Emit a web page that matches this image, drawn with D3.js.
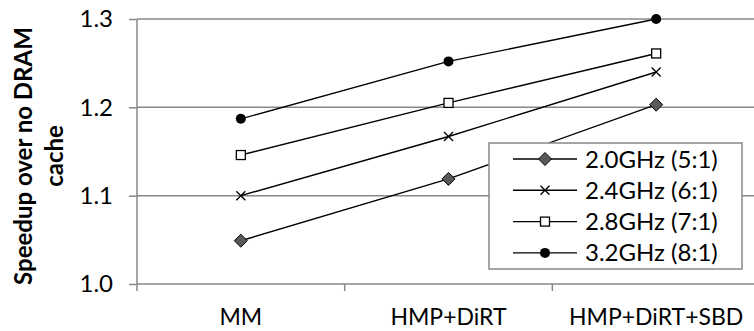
<!DOCTYPE html>
<html>
<head>
<meta charset="utf-8">
<script src="https://cdn.jsdelivr.net/npm/d3@7"></script>
<style>
  body { margin: 0; background: #fff; overflow: hidden; }
  text { font-family: Lato, "Open Sans", sans-serif; fill: #000; }
</style>
</head>
<body>
<div id="chart"></div>
<script>
// data
var categories = ["MM", "HMP+DiRT", "HMP+DiRT+SBD"];
var seriesNames = ["2.0GHz (5:1)", "2.4GHz (6:1)", "2.8GHz (7:1)", "3.2GHz (8:1)"];
var ghz20 = [1.049, 1.119, 1.203];
var ghz24 = [1.100, 1.167, 1.240];
var ghz28 = [1.146, 1.205, 1.261];
var ghz32 = [1.187, 1.252, 1.300];
var yTicks = [1.0, 1.1, 1.2, 1.3];

var series = [
  {name: seriesNames[0], values: ghz20, marker: "diamond"},
  {name: seriesNames[1], values: ghz24, marker: "cross"},
  {name: seriesNames[2], values: ghz28, marker: "square"},
  {name: seriesNames[3], values: ghz32, marker: "circle"}
];

var fontSize = 24;
var svgWidth = 754, svgHeight = 331;
// plot area runs a little past the right edge of the picture
var margin = {top: 19, right: -6, bottom: 47, left: 137};
var width = svgWidth - margin.left - margin.right;
var height = svgHeight - margin.top - margin.bottom;

var svg = d3.select("#chart").append("svg")
  .attr("width", svgWidth)
  .attr("height", svgHeight);

var chartGroup = svg.append("g")
  .attr("transform", `translate(${margin.left}, ${margin.top})`);

var xScale = d3.scaleBand().domain(categories).range([0, width]);
var yScale = d3.scaleLinear().domain([1.0, 1.3]).range([height, 0]);

// gridlines
chartGroup.append("g").selectAll("line")
  .data(yTicks.slice(1))
  .enter().append("line")
  .attr("x1", 0).attr("x2", width)
  .attr("y1", d => yScale(d)).attr("y2", d => yScale(d))
  .attr("stroke", "#888").attr("stroke-width", 1.5);

// y axis
var leftAxis = d3.axisLeft(yScale).tickValues(yTicks).tickFormat(d3.format(".1f")).tickSize(8).tickPadding(16);
var yAxisG = chartGroup.append("g").call(leftAxis);
yAxisG.select(".domain").remove();
yAxisG.selectAll("line").attr("stroke", "#888").attr("stroke-width", 1.5);
yAxisG.append("line").attr("x1", 0).attr("x2", 0).attr("y1", 0).attr("y2", height + 7)
  .attr("stroke", "#888").attr("stroke-width", 1.5);
yAxisG.selectAll("text").attr("font-size", fontSize).attr("fill", "#000").attr("font-family", "Lato");

// x axis with ticks on category boundaries
chartGroup.append("line").attr("x1", 0).attr("x2", width).attr("y1", height).attr("y2", height)
  .attr("stroke", "#888").attr("stroke-width", 1.5);
chartGroup.selectAll(".xtick")
  .data(categories)
  .enter().append("line")
  .attr("x1", d => xScale(d) + xScale.bandwidth()).attr("x2", d => xScale(d) + xScale.bandwidth())
  .attr("y1", height).attr("y2", height + 7)
  .attr("stroke", "#888").attr("stroke-width", 1.5);
chartGroup.selectAll(".xlabel")
  .data(categories)
  .enter().append("text")
  .attr("x", d => xScale(d) + xScale.bandwidth() / 2)
  .attr("y", height + 41)
  .attr("text-anchor", "middle")
  .attr("font-size", 23)
  .text(d => d);

// y axis title
var title = svg.append("text")
  .attr("transform", "translate(32, 156) rotate(-90)")
  .attr("text-anchor", "middle")
  .attr("font-size", fontSize)
  .attr("font-weight", "bold");
title.append("tspan").attr("x", 0).attr("dy", 0).text("Speedup over no DRAM");
title.append("tspan").attr("x", 0).attr("dy", 31).text("cache");

var line = d3.line()
  .x((d, i) => xScale(categories[i]) + xScale.bandwidth() / 2)
  .y(d => yScale(d));

function drawMarker(g, type) {
  if (type === "diamond") {
    g.append("path").attr("d", "M0,-6.5L6.5,0L0,6.5L-6.5,0Z")
      .attr("fill", "#595959").attr("stroke", "#000").attr("stroke-width", 1);
  } else if (type === "cross") {
    g.append("path").attr("d", "M-4.5,-4.5L4.5,4.5M-4.5,4.5L4.5,-4.5")
      .attr("stroke", "#000").attr("stroke-width", 1.3).attr("fill", "none");
  } else if (type === "square") {
    g.append("rect").attr("x", -4.5).attr("y", -4.5).attr("width", 9).attr("height", 9)
      .attr("fill", "#fff").attr("stroke", "#000").attr("stroke-width", 1.3);
  } else {
    g.append("circle").attr("r", 5).attr("fill", "#000");
  }
}

series.forEach(function(s) {
  chartGroup.append("path")
    .datum(s.values)
    .attr("d", line)
    .attr("fill", "none")
    .attr("stroke", "#000")
    .attr("stroke-width", 1.4);
  s.values.forEach(function(v, i) {
    var g = chartGroup.append("g")
      .attr("transform", `translate(${xScale(categories[i]) + xScale.bandwidth() / 2}, ${yScale(v)})`);
    drawMarker(g, s.marker);
  });
});

// legend
var legend = svg.append("g").attr("transform", "translate(489, 143)");
legend.append("rect").attr("x", 0).attr("y", 0).attr("width", 253).attr("height", 126)
  .attr("fill", "#fff").attr("stroke", "#888").attr("stroke-width", 1.5);
series.forEach(function(s, i) {
  var yy = 16 + i * 31.3;
  legend.append("line").attr("x1", 24).attr("x2", 88).attr("y1", yy).attr("y2", yy)
    .attr("stroke", "#000").attr("stroke-width", 1.4);
  drawMarker(legend.append("g").attr("transform", `translate(56, ${yy})`), s.marker);
  legend.append("text").attr("x", 96).attr("y", yy + 8.5)
    .attr("font-size", fontSize)
    .text(s.name);
});
</script>
</body>
</html>
